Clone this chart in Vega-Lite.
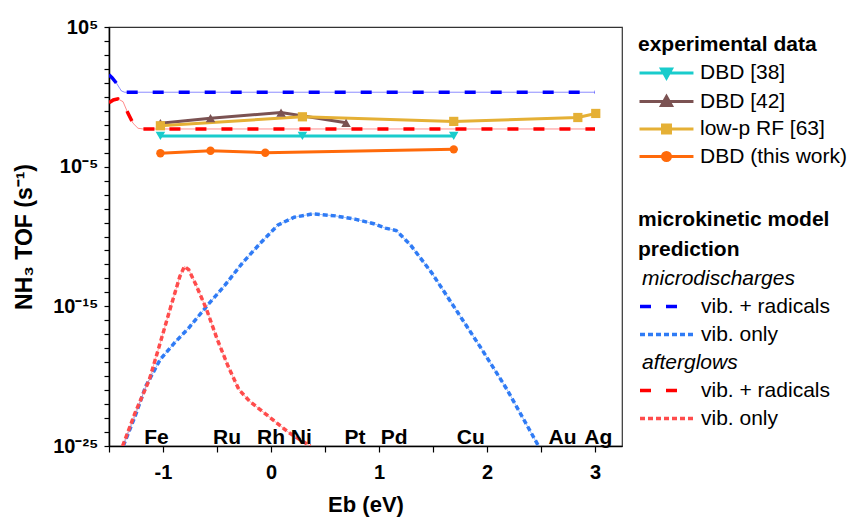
{
  "$schema": "https://vega.github.io/schema/vega-lite/v6.json",
  "width": 513,
  "height": 419,
  "autosize": {"type": "none"},
  "padding": {"left": 109, "top": 27, "right": 234, "bottom": 76},
  "config": {
    "font": "Liberation Sans",
    "view": {"stroke": "#333333", "strokeWidth": 1.2},
    "axis": {"labelFont": "Liberation Sans", "titleFont": "Liberation Sans", "labelColor": "#000", "titleColor": "#000", "domainColor": "#000", "tickColor": "#000", "grid": false},
    "legend": {"labelFont": "Liberation Sans", "titleFont": "Liberation Sans", "labelColor": "#000", "titleColor": "#000", "padding": 0, "titleLimit": 400, "labelLimit": 400}
  },
  "datasets": {
    "exp": [
      {"series": "DBD [38]", "Eb": -1.024, "TOF": 0.00158},
      {"series": "DBD [38]", "Eb": 0.291, "TOF": 0.00158},
      {"series": "DBD [38]", "Eb": 1.692, "TOF": 0.00158},
      {"series": "DBD [42]", "Eb": -1.024, "TOF": 0.0129},
      {"series": "DBD [42]", "Eb": -0.56, "TOF": 0.0295},
      {"series": "DBD [42]", "Eb": 0.093, "TOF": 0.0741},
      {"series": "DBD [42]", "Eb": 0.695, "TOF": 0.0138},
      {"series": "low-p RF [63]", "Eb": -1.024, "TOF": 0.0085},
      {"series": "low-p RF [63]", "Eb": 0.291, "TOF": 0.0372},
      {"series": "low-p RF [63]", "Eb": 1.692, "TOF": 0.0174},
      {"series": "low-p RF [63]", "Eb": 2.841, "TOF": 0.0331},
      {"series": "low-p RF [63]", "Eb": 3.007, "TOF": 0.0646},
      {"series": "DBD (this work)", "Eb": -1.024, "TOF": 0.000091},
      {"series": "DBD (this work)", "Eb": -0.56, "TOF": 0.000138},
      {"series": "DBD (this work)", "Eb": -0.053, "TOF": 0.0001},
      {"series": "DBD (this work)", "Eb": 1.692, "TOF": 0.000174}
    ],
    "model": [
      {"model": "md_vr", "Eb": -1.5, "TOF": 38},
      {"model": "md_vr", "Eb": -1.47, "TOF": 22.4},
      {"model": "md_vr", "Eb": -1.43, "TOF": 9.3},
      {"model": "md_vr", "Eb": -1.4, "TOF": 4.0},
      {"model": "md_vr", "Eb": -1.385, "TOF": 2.63},
      {"model": "md_vr", "Eb": -1.355, "TOF": 2.14},
      {"model": "md_vr", "Eb": 3.0, "TOF": 2.14},
      {"model": "ag_vr", "Eb": -1.5, "TOF": 0.38},
      {"model": "ag_vr", "Eb": -1.46, "TOF": 0.6},
      {"model": "ag_vr", "Eb": -1.417, "TOF": 0.71},
      {"model": "ag_vr", "Eb": -1.37, "TOF": 0.45},
      {"model": "ag_vr", "Eb": -1.324, "TOF": 0.066},
      {"model": "ag_vr", "Eb": -1.278, "TOF": 0.0129},
      {"model": "ag_vr", "Eb": -1.231, "TOF": 0.0056},
      {"model": "ag_vr", "Eb": -1.185, "TOF": 0.005},
      {"model": "ag_vr", "Eb": 3.0, "TOF": 0.005},
      {"model": "md_vo", "Eb": -1.368, "TOF": 1e-25},
      {"model": "md_vo", "Eb": -1.258, "TOF": 1.38e-23},
      {"model": "md_vo", "Eb": -1.159, "TOF": 1.95e-21},
      {"model": "md_vo", "Eb": -1.026, "TOF": 1.55e-19},
      {"model": "md_vo", "Eb": -0.894, "TOF": 2.4e-18},
      {"model": "md_vo", "Eb": -0.762, "TOF": 2.8e-17},
      {"model": "md_vo", "Eb": -0.596, "TOF": 1e-15},
      {"model": "md_vo", "Eb": -0.43, "TOF": 3.0e-14},
      {"model": "md_vo", "Eb": -0.265, "TOF": 1.26e-12},
      {"model": "md_vo", "Eb": -0.099, "TOF": 3.3e-11},
      {"model": "md_vo", "Eb": 0.066, "TOF": 6.8e-10},
      {"model": "md_vo", "Eb": 0.215, "TOF": 2.4e-9},
      {"model": "md_vo", "Eb": 0.391, "TOF": 4.2e-9},
      {"model": "md_vo", "Eb": 0.596, "TOF": 3.0e-9},
      {"model": "md_vo", "Eb": 0.778, "TOF": 1.74e-9},
      {"model": "md_vo", "Eb": 0.96, "TOF": 7.9e-10},
      {"model": "md_vo", "Eb": 1.06, "TOF": 4.0e-10},
      {"model": "md_vo", "Eb": 1.159, "TOF": 2.7e-10},
      {"model": "md_vo", "Eb": 1.291, "TOF": 2.5e-11},
      {"model": "md_vo", "Eb": 1.49, "TOF": 2.4e-13},
      {"model": "md_vo", "Eb": 1.722, "TOF": 4.4e-16},
      {"model": "md_vo", "Eb": 1.954, "TOF": 7.9e-19},
      {"model": "md_vo", "Eb": 2.185, "TOF": 1.12e-21},
      {"model": "md_vo", "Eb": 2.477, "TOF": 1e-25},
      {"model": "ag_vo", "Eb": -1.374, "TOF": 1e-25},
      {"model": "ag_vo", "Eb": -1.258, "TOF": 2.4e-23},
      {"model": "ag_vo", "Eb": -1.126, "TOF": 5.8e-21},
      {"model": "ag_vo", "Eb": -1.026, "TOF": 2.4e-18},
      {"model": "ag_vo", "Eb": -0.927, "TOF": 1e-15},
      {"model": "ag_vo", "Eb": -0.844, "TOF": 1.38e-13},
      {"model": "ag_vo", "Eb": -0.801, "TOF": 7.2e-13},
      {"model": "ag_vo", "Eb": -0.762, "TOF": 4.2e-13},
      {"model": "ag_vo", "Eb": -0.695, "TOF": 3.5e-14},
      {"model": "ag_vo", "Eb": -0.596, "TOF": 5.8e-16},
      {"model": "ag_vo", "Eb": -0.497, "TOF": 4.2e-18},
      {"model": "ag_vo", "Eb": -0.397, "TOF": 5.1e-20},
      {"model": "ag_vo", "Eb": -0.298, "TOF": 1.12e-21},
      {"model": "ag_vo", "Eb": -0.199, "TOF": 1.62e-22},
      {"model": "ag_vo", "Eb": -0.033, "TOF": 1.55e-23},
      {"model": "ag_vo", "Eb": 0.166, "TOF": 8.9e-25},
      {"model": "ag_vo", "Eb": 0.364, "TOF": 1e-25}
    ],
    "metals": [
      {"metal": "Fe", "Eb": -1.06},
      {"metal": "Ru", "Eb": -0.407},
      {"metal": "Rh", "Eb": 0.0},
      {"metal": "Ni", "Eb": 0.28},
      {"metal": "Pt", "Eb": 0.778},
      {"metal": "Pd", "Eb": 1.14},
      {"metal": "Cu", "Eb": 1.85},
      {"metal": "Au", "Eb": 2.7},
      {"metal": "Ag", "Eb": 3.03}
    ]
  },
  "layer": [
    {
      "data": {"name": "model"},
      "encoding": {
        "x": {"field": "Eb", "type": "quantitative",
          "scale": {"domain": [-1.5, 3.25], "nice": false, "zero": false},
          "axis": {"title": "Eb (eV)", "values": [-1.5, -1, -0.5, 0, 0.5, 1, 1.5, 2, 2.5, 3], "labelExpr": "datum.value % 1 == 0 ? '' + datum.value : ''", "labelFontSize": 20, "labelFontWeight": "bold", "titleFontSize": 22, "titleFontWeight": "bold", "tickSize": 6, "tickWidth": 1.2, "domainWidth": 1.5, "labelPadding": 10, "titlePadding": 12, "labelFlush": false}},
        "y": {"field": "TOF", "type": "quantitative",
          "scale": {"type": "log", "domain": [1e-25, 100000], "nice": false},
          "axis": {"title": "NH₃ TOF (s⁻¹)", "values": [1e-25, 1e-24, 1e-23, 1e-22, 1e-21, 1e-20, 1e-19, 1e-18, 1e-17, 1e-16, 1e-15, 1e-14, 1e-13, 1e-12, 1e-11, 1e-10, 1e-9, 1e-8, 1e-7, 1e-6, 1e-5, 1e-4, 1e-3, 1e-2, 1e-1, 1, 10, 100, 1000, 10000, 100000], "labelExpr": "round(log(datum.value)/LN10) == 5 ? '10⁵' : round(log(datum.value)/LN10) == -5 ? '10⁻⁵' : round(log(datum.value)/LN10) == -15 ? '10⁻¹⁵' : round(log(datum.value)/LN10) == -25 ? '10⁻²⁵' : ''", "labelFontSize": 20, "labelFontWeight": "bold", "titleFontSize": 23, "titleFontWeight": "bold", "tickSize": 5, "tickWidth": 1.2, "domainWidth": 1.5, "labelPadding": 6, "titlePadding": 16, "labelFlush": false, "labelOverlap": false}}
      },
      "layer": [
        {
          "mark": {"type": "line", "strokeWidth": 1, "opacity": 0.45, "clip": true},
          "encoding": {
            "color": {"field": "model", "type": "nominal",
              "scale": {"domain": ["microdischarges", "md_vr", "md_vo", "afterglows", "ag_vr", "ag_vo"], "range": ["#ffffff", "#0000FF", "#2F7BF5", "#ffffff", "#FF0000", "#FF4B4B"]}}
          }
        },
        {
          "mark": {"type": "line", "strokeWidth": 3.5, "clip": true},
          "encoding": {
            "color": {"field": "model", "type": "nominal",
              "scale": {"domain": ["microdischarges", "md_vr", "md_vo", "afterglows", "ag_vr", "ag_vo"], "range": ["#ffffff", "#0000FF", "#2F7BF5", "#ffffff", "#FF0000", "#FF4B4B"]},
              "legend": {
                "title": ["microkinetic model", "prediction"],
                "orient": "none", "legendX": 529, "legendY": 182,
                "titleFontSize": 21, "titleFontWeight": "bold", "titleLineHeight": 30, "titlePadding": 6,
                "labelFontSize": 21, "labelOffset": 38, "rowPadding": 5,
                "symbolType": "M-1,0H4.14", "symbolSize": 441, "symbolStrokeWidth": 3.5,
                "labelExpr": "datum.value == 'md_vr' || datum.value == 'ag_vr' ? 'vib. + radicals' : datum.value == 'md_vo' || datum.value == 'ag_vo' ? 'vib. only' : datum.value",
                "encode": {
                  "symbols": {"update": {
                    "shape": {"signal": "(datum.value == 'md_vr' || datum.value == 'ag_vr') ? 'M-1,0H2.71' : 'M-1,0H4.14'"},
                    "opacity": {"signal": "(datum.value == 'microdischarges' || datum.value == 'afterglows') ? 0 : 1"},
                    "strokeDash": {"signal": "(datum.value == 'md_vr' || datum.value == 'ag_vr') ? [12, 13] : [4, 3]"}
                  }},
                  "labels": {"update": {
                    "fontStyle": {"signal": "(datum.value == 'microdischarges' || datum.value == 'afterglows') ? 'italic' : 'normal'"},
                    "dx": {"signal": "(datum.value == 'microdischarges' || datum.value == 'afterglows') ? -59 : 0"}
                  }}
                }
              }},
            "strokeDash": {"field": "model", "type": "nominal",
              "scale": {"domain": ["microdischarges", "md_vr", "md_vo", "afterglows", "ag_vr", "ag_vo"], "range": [[1, 0], [11, 15], [5, 3], [1, 0], [11, 15], [5, 3]]}}
          }
        }
      ]
    },
    {
      "data": {"name": "exp"},
      "encoding": {
        "x": {"field": "Eb", "type": "quantitative",
          "axis": {"title": "Eb (eV)", "values": [-1.5, -1, -0.5, 0, 0.5, 1, 1.5, 2, 2.5, 3], "labelExpr": "datum.value % 1 == 0 ? '' + datum.value : ''", "labelFontSize": 20, "labelFontWeight": "bold", "titleFontSize": 22, "titleFontWeight": "bold", "tickSize": 6, "tickWidth": 1.2, "domainWidth": 1.5, "labelPadding": 10, "titlePadding": 12, "labelFlush": false}},
        "y": {"field": "TOF", "type": "quantitative",
          "axis": {"title": "NH₃ TOF (s⁻¹)", "values": [1e-25, 1e-24, 1e-23, 1e-22, 1e-21, 1e-20, 1e-19, 1e-18, 1e-17, 1e-16, 1e-15, 1e-14, 1e-13, 1e-12, 1e-11, 1e-10, 1e-9, 1e-8, 1e-7, 1e-6, 1e-5, 1e-4, 1e-3, 1e-2, 1e-1, 1, 10, 100, 1000, 10000, 100000], "labelExpr": "round(log(datum.value)/LN10) == 5 ? '10⁵' : round(log(datum.value)/LN10) == -5 ? '10⁻⁵' : round(log(datum.value)/LN10) == -15 ? '10⁻¹⁵' : round(log(datum.value)/LN10) == -25 ? '10⁻²⁵' : ''", "labelFontSize": 20, "labelFontWeight": "bold", "titleFontSize": 23, "titleFontWeight": "bold", "tickSize": 5, "tickWidth": 1.2, "domainWidth": 1.5, "labelPadding": 6, "titlePadding": 16, "labelFlush": false, "labelOverlap": false}}
      },
      "layer": [
        {
          "mark": {"type": "line", "strokeWidth": 3, "clip": true},
          "encoding": {
            "color": {"field": "series", "type": "nominal",
              "scale": {"domain": ["DBD [38]", "DBD [42]", "low-p RF [63]", "DBD (this work)"], "range": ["#19CCCC", "#7B5252", "#E5B035", "#FF6A0A"]},
              "legend": {
                "title": "experimental data",
                "orient": "none", "legendX": 529, "legendY": 7,
                "titleFontSize": 21, "titleFontWeight": "bold", "titlePadding": 6,
                "labelFontSize": 21, "labelOffset": 38, "rowPadding": 5.5,
                "symbolType": "M-1,0H4.14", "symbolSize": 441, "symbolStrokeWidth": 3,
                "encode": {
                  "symbols": {"update": {
                    "shape": {"signal": "datum.value == 'DBD [38]' ? 'M-1,0H4.14M1.095,-0.38L2.047,-0.38L1.571,0.476Z' : datum.value == 'DBD [42]' ? 'M-1,0H4.14M1.095,0.38L2.047,0.38L1.571,-0.476Z' : datum.value == 'low-p RF [63]' ? 'M-1,0H4.14M1.19,-0.38H1.95V0.38H1.19Z' : 'M-1,0H4.14M1.95,0A0.38,0.38,0,1,1,1.19,0A0.38,0.38,0,1,1,1.95,0Z'"},
                    "fill": {"signal": "datum.value == 'DBD [38]' ? '#19CCCC' : datum.value == 'DBD [42]' ? '#7B5252' : datum.value == 'low-p RF [63]' ? '#E5B035' : '#FF6A0A'"},
                    "stroke": {"signal": "datum.value == 'DBD [38]' ? '#19CCCC' : datum.value == 'DBD [42]' ? '#7B5252' : datum.value == 'low-p RF [63]' ? '#E5B035' : '#FF6A0A'"},
                    "strokeWidth": {"value": 3},
                    "opacity": {"value": 1}
                  }}
                }
              }}
          }
        },
        {
          "transform": [{"filter": "datum.series == 'DBD [38]'"}],
          "mark": {"type": "point", "shape": "triangle-down", "filled": true, "opacity": 1, "size": 90, "color": "#19CCCC", "clip": true}
        },
        {
          "transform": [{"filter": "datum.series == 'DBD [42]'"}],
          "mark": {"type": "point", "shape": "triangle-up", "filled": true, "opacity": 1, "size": 90, "color": "#7B5252", "clip": true}
        },
        {
          "transform": [{"filter": "datum.series == 'low-p RF [63]'"}],
          "mark": {"type": "point", "shape": "square", "filled": true, "opacity": 1, "size": 85, "color": "#E5B035", "clip": true}
        },
        {
          "transform": [{"filter": "datum.series == 'DBD (this work)'"}],
          "mark": {"type": "point", "shape": "circle", "filled": true, "opacity": 1, "size": 70, "color": "#FF6A0A", "clip": true}
        }
      ]
    },
    {
      "data": {"name": "metals"},
      "mark": {"type": "text", "fontSize": 21, "fontWeight": "bold", "baseline": "alphabetic", "align": "center", "color": "#000000"},
      "encoding": {
        "x": {"field": "Eb", "type": "quantitative",
          "axis": {"title": "Eb (eV)", "values": [-1.5, -1, -0.5, 0, 0.5, 1, 1.5, 2, 2.5, 3], "labelExpr": "datum.value % 1 == 0 ? '' + datum.value : ''", "labelFontSize": 20, "labelFontWeight": "bold", "titleFontSize": 22, "titleFontWeight": "bold", "tickSize": 6, "tickWidth": 1.2, "domainWidth": 1.5, "labelPadding": 10, "titlePadding": 12, "labelFlush": false}},
        "y": {"datum": 1.4e-25, "type": "quantitative",
          "axis": {"title": "NH₃ TOF (s⁻¹)", "values": [1e-25, 1e-24, 1e-23, 1e-22, 1e-21, 1e-20, 1e-19, 1e-18, 1e-17, 1e-16, 1e-15, 1e-14, 1e-13, 1e-12, 1e-11, 1e-10, 1e-9, 1e-8, 1e-7, 1e-6, 1e-5, 1e-4, 1e-3, 1e-2, 1e-1, 1, 10, 100, 1000, 10000, 100000], "labelExpr": "round(log(datum.value)/LN10) == 5 ? '10⁵' : round(log(datum.value)/LN10) == -5 ? '10⁻⁵' : round(log(datum.value)/LN10) == -15 ? '10⁻¹⁵' : round(log(datum.value)/LN10) == -25 ? '10⁻²⁵' : ''", "labelFontSize": 20, "labelFontWeight": "bold", "titleFontSize": 23, "titleFontWeight": "bold", "tickSize": 5, "tickWidth": 1.2, "domainWidth": 1.5, "labelPadding": 6, "titlePadding": 16, "labelFlush": false, "labelOverlap": false}},
        "text": {"field": "metal", "type": "nominal"}
      }
    }
  ],
  "resolve": {"scale": {"color": "independent", "strokeDash": "independent"}, "legend": {"color": "independent"}}
}
